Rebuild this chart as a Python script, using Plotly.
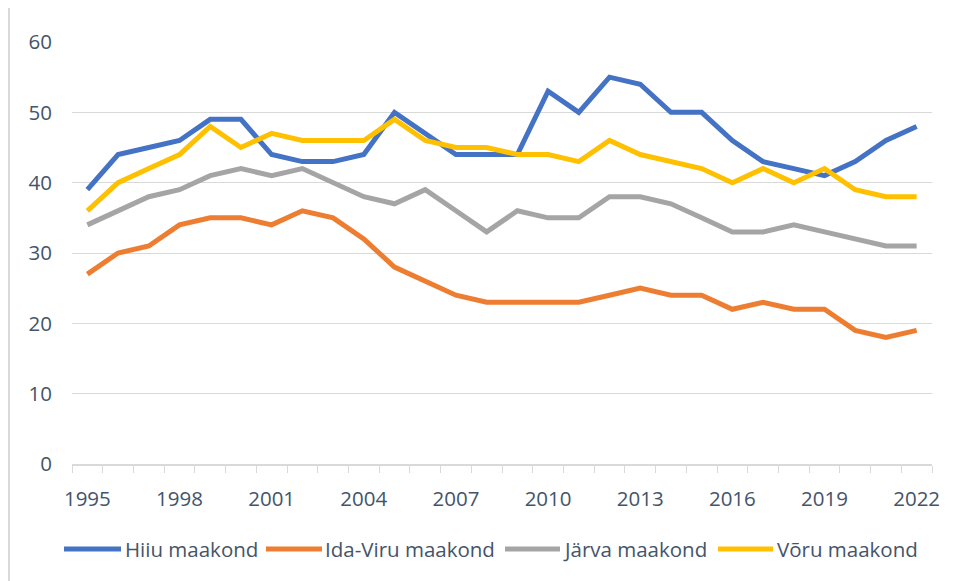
import plotly.graph_objects as go

years = list(range(1995, 2023))
hiiu = [39, 44, 45, 46, 49, 49, 44, 43, 43, 44, 50, 47, 44, 44, 44, 53, 50, 55, 54, 50, 50, 46, 43, 42, 41, 43, 46, 48]
ida_viru = [27, 30, 31, 34, 35, 35, 34, 36, 35, 32, 28, 26, 24, 23, 23, 23, 23, 24, 25, 24, 24, 22, 23, 22, 22, 19, 18, 19]
jarva = [34, 36, 38, 39, 41, 42, 41, 42, 40, 38, 37, 39, 36, 33, 36, 35, 35, 38, 38, 37, 35, 33, 33, 34, 33, 32, 31, 31]
voru = [36, 40, 42, 44, 48, 45, 47, 46, 46, 46, 49, 46, 45, 45, 44, 44, 43, 46, 44, 43, 42, 40, 42, 40, 42, 39, 38, 38]

series_names = ["Hiiu maakond", "Ida-Viru maakond", "Järva maakond", "Võru maakond"]
series_values = [hiiu, ida_viru, jarva, voru]
colors = ["#4472C4", "#ED7D31", "#A5A5A5", "#FFC000"]
label_years = list(range(1995, 2023, 3))

FONT = "Open Sans"
TXT = "#44546A"
FS = 20.5

# layout geometry (figure px); page body adds an 8px offset
L, R, T, B = 64, 32, 34, 125
W, H = 956, 581
PW, PH = W - L - R, H - T - B


def px_x(sx):  # screen x -> paper x
    return (sx - 8 - L) / PW


def px_y(sy):  # screen y -> paper y
    return (H - B - (sy - 8)) / PH


fig = go.Figure()
for name, vals, c in zip(series_names, series_values, colors):
    fig.add_trace(go.Scatter(x=years, y=vals, name=name, mode="lines",
                             line=dict(color=c, width=5), showlegend=False))

fig.update_layout(
    width=W, height=H,
    margin=dict(l=L, r=R, t=T, b=B),
    plot_bgcolor="white", paper_bgcolor="white",
    font=dict(family=FONT, size=FS, color=TXT),
    showlegend=False,
    xaxis=dict(range=[1994.5, 2022.5], tickvals=label_years, ticktext=[str(y) for y in label_years],
               showgrid=False, zeroline=False, showline=True, linecolor="#D9D9D9", linewidth=1.5,
               ticks="", ticklabelstandoff=16,
               minor=dict(tick0=1994.5, dtick=1, ticks="outside", ticklen=7, tickcolor="#D9D9D9",
                          tickwidth=1, showgrid=False),
               tickfont=dict(family=FONT, size=FS, color=TXT)),
    yaxis=dict(range=[0, 60], dtick=10, showgrid=True, gridcolor="#D9D9D9", gridwidth=1.2,
               zeroline=False, showline=False, ticks="", ticklabelstandoff=19,
               tickfont=dict(family=FONT, size=FS, color=TXT)),
)

# chart border (left edge)
fig.add_shape(type="line", xref="paper", yref="paper", x0=px_x(9), x1=px_x(9),
              y0=px_y(600), y1=px_y(0), line=dict(color="#D9D9D9", width=2))

# custom legend
leg_lines = [(64, 121), (266, 322), (505, 560), (718, 773)]
leg_text_x = [124, 324, 562, 776]
leg_y = 549
for name, c, (a, b), tx in zip(series_names, colors, leg_lines, leg_text_x):
    fig.add_shape(type="line", xref="paper", yref="paper", x0=px_x(a), x1=px_x(b),
                  y0=px_y(leg_y), y1=px_y(leg_y), line=dict(color=c, width=5))
    fig.add_annotation(xref="paper", yref="paper", x=px_x(tx), y=px_y(leg_y), text=name,
                       showarrow=False, xanchor="left", yanchor="middle", borderpad=0,
                       font=dict(family=FONT, size=FS, color=TXT))

fig.write_html("out.html")
